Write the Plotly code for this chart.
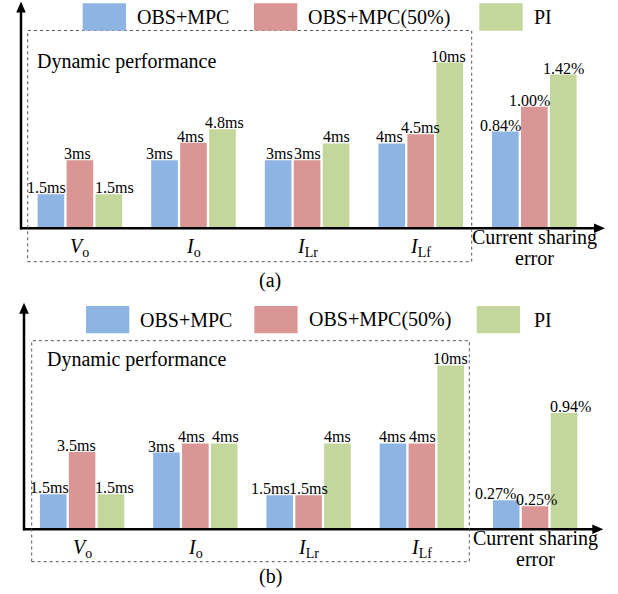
import plotly.graph_objects as go

W, H = 618, 594

# ---------------- data ----------------
categories = ["<i>V</i><sub>o</sub>", "<i>I</i><sub>o</sub>", "<i>I</i><sub>Lr</sub>",
              "<i>I</i><sub>Lf</sub>", "Current sharing<br>error"]
series_names = ["OBS+MPC", "OBS+MPC(50%)", "PI"]
colors = ["#8EB4E3", "#D99694", "#C3D69B"]

# panel (a): drawn bar heights (schematic scale) and value labels
a_obs_mpc = [1.5, 3.0, 3.0, 3.74, 4.26]
a_obs_mpc50 = [3.0, 3.77, 3.0, 4.14, 5.36]
a_pi = [1.5, 4.36, 3.74, 7.3, 6.77]
a_obs_mpc_lbl = ["1.5ms", "3ms", "3ms", "4ms", "0.84%"]
a_obs_mpc50_lbl = ["3ms", "4ms", "3ms", "4.5ms", "1.00%"]
a_pi_lbl = ["1.5ms", "4.8ms", "4ms", "10ms", "1.42%"]

# panel (b)
b_obs_mpc = [1.54, 3.38, 1.5, 3.78, 1.28]
b_obs_mpc50 = [3.4, 3.78, 1.5, 3.78, 1.01]
b_pi = [1.54, 3.78, 3.78, 7.22, 5.12]
b_obs_mpc_lbl = ["1.5ms", "3ms", "1.5ms", "4ms", "0.27%"]
b_obs_mpc50_lbl = ["3.5ms", "4ms", "1.5ms", "4ms", "0.25%"]
b_pi_lbl = ["1.5ms", "4ms", "4ms", "10ms", "0.94%"]

box_title = "Dynamic performance"
captions = ["(a)", "(b)"]

# ---------------- style ----------------
FONT = "Liberation Serif"
UNIT = 22.7  # pixels per height unit
BARGAP = 0.235
BARGROUPGAP = 0.08
SLOT = (1 - BARGAP) / 3

# small horizontal nudges (px) of value labels, as placed in the original figure
label_nudge = [
    [[-4, -5, 1, -2, -4.5], [-2, -3.5, 0, 0, -5], [5.5, 2, 0, -1, 0]],
    [[-4, -5, -9, 0, -11], [-5.5, -3.5, 0, 1, 1], [3.5, 1, 0, 0, 6.5]],
]


def px(x):
    return x / W


def py(y):
    return 1 - y / H


panels = [
    dict(xa="x", ya="y", vals=[a_obs_mpc, a_obs_mpc50, a_pi],
         lbls=[a_obs_mpc_lbl, a_obs_mpc50_lbl, a_pi_lbl],
         yaxis_x=21, axis_y=228.3, ytip=1.5, xtip=605, top=10,
         box=(27.7, 30.5, 471.7, 261.7), dp=(35, 61.7), leg_y=(3.3, 30.7),
         leg_x=[(82.7, 126, 135), (254, 297.3, 305.7), (479.3, 522.7, 531.7)],
         cap=(270, 280), x0px=79.9, xstep=113.6),
    dict(xa="x2", ya="y2", vals=[b_obs_mpc, b_obs_mpc50, b_pi],
         lbls=[b_obs_mpc_lbl, b_obs_mpc50_lbl, b_pi_lbl],
         yaxis_x=24, axis_y=529.3, ytip=302.7, xtip=603.3, top=312,
         box=(31.7, 340.7, 469.3, 561.7), dp=(45, 359.3), leg_y=(306, 333.3),
         leg_x=[(86, 129.3, 138), (254.3, 297.6, 306.7), (476.7, 520, 531.7)],
         cap=(270, 576.7), x0px=82.1, xstep=113.25),
]

fig = go.Figure()
shapes = []
annotations = []
layout_axes = {}

xs = list(range(len(categories)))

for i, p in enumerate(panels):
    for k, (vals, lbls, name, col) in enumerate(zip(p["vals"], p["lbls"], series_names, colors)):
        fig.add_trace(go.Bar(
            x=xs, y=vals, name=name, marker=dict(color=col, line=dict(width=0)),
            customdata=lbls, hovertemplate="%{customdata}<extra>" + name + "</extra>",
            xaxis=p["xa"], yaxis=p["ya"], showlegend=False))
        # value labels above each bar
        for j, (v, t) in enumerate(zip(vals, lbls)):
            annotations.append(dict(
                xref=p["xa"], yref=p["ya"], x=j + (k - 1) * SLOT, y=v, text=t,
                showarrow=False, xanchor="center", yanchor="bottom",
                xshift=label_nudge[i][k][j], yshift=-3, borderpad=0,
                font=dict(family=FONT, size=16, color="black")))

    # axes
    xr0 = -p["x0px"] / p["xstep"]
    xr1 = (W - p["x0px"]) / p["xstep"]
    yr1 = (p["axis_y"] - p["top"]) / UNIT
    xkey = "xaxis" if i == 0 else "xaxis2"
    ykey = "yaxis" if i == 0 else "yaxis2"
    layout_axes[xkey] = dict(domain=[0, 1], range=[xr0, xr1], visible=False,
                             anchor=p["ya"], fixedrange=True)
    layout_axes[ykey] = dict(domain=[py(p["axis_y"]), py(p["top"])], range=[0, yr1],
                             visible=False, anchor=p["xa"], fixedrange=True)

    # arrow axes
    ax_x, ax_y = p["yaxis_x"], p["axis_y"]
    shapes.append(dict(type="line", xref="paper", yref="paper",
                       x0=px(ax_x - 1), y0=py(ax_y), x1=px(p["xtip"] - 9), y1=py(ax_y),
                       line=dict(color="black", width=2.5)))
    shapes.append(dict(type="path", xref="paper", yref="paper",
                       path=f"M {px(p['xtip'])},{py(ax_y)} L {px(p['xtip'] - 11)},{py(ax_y - 4.8)} "
                            f"L {px(p['xtip'] - 11)},{py(ax_y + 4.8)} Z",
                       fillcolor="black", line=dict(color="black", width=0)))
    shapes.append(dict(type="line", xref="paper", yref="paper",
                       x0=px(ax_x), y0=py(ax_y + 1), x1=px(ax_x), y1=py(p["ytip"] + 9),
                       line=dict(color="black", width=2.5)))
    shapes.append(dict(type="path", xref="paper", yref="paper",
                       path=f"M {px(ax_x)},{py(p['ytip'])} L {px(ax_x - 4.8)},{py(p['ytip'] + 11)} "
                            f"L {px(ax_x + 4.8)},{py(p['ytip'] + 11)} Z",
                       fillcolor="black", line=dict(color="black", width=0)))

    # dashed box
    bx0, by0, bx1, by1 = p["box"]
    shapes.append(dict(type="rect", xref="paper", yref="paper",
                       x0=px(bx0), y0=py(by1), x1=px(bx1), y1=py(by0),
                       line=dict(color="#555555", width=1, dash="dot")))
    annotations.append(dict(xref="paper", yref="paper", x=px(p["dp"][0]), y=py(p["dp"][1]),
                            text=box_title, showarrow=False, xanchor="left", yanchor="middle",
                            font=dict(family=FONT, size=20, color="black")))

    # legend
    ly0, ly1 = p["leg_y"]
    for (rx0, rx1, tx), name, col in zip(p["leg_x"], series_names, colors):
        shapes.append(dict(type="rect", xref="paper", yref="paper",
                           x0=px(rx0), y0=py(ly1), x1=px(rx1), y1=py(ly0),
                           fillcolor=col, line=dict(width=0)))
        annotations.append(dict(xref="paper", yref="paper", x=px(tx), y=py((ly0 + ly1) / 2),
                                text=name, showarrow=False, xanchor="left", yanchor="middle",
                                font=dict(family=FONT, size=20, color="black")))

    # category labels
    for j, cat in enumerate(categories):
        lines = cat.split("<br>")
        if len(lines) == 1:
            offs = [19]
        else:
            offs = [9, 29.5]
        for line_text, off in zip(lines, offs):
            annotations.append(dict(xref=p["xa"], yref="paper", x=j, y=py(ax_y + off),
                                    text=line_text, showarrow=False, xanchor="center",
                                    yanchor="middle", borderpad=0,
                                    font=dict(family=FONT, size=20, color="black")))

    # caption
    annotations.append(dict(xref="paper", yref="paper", x=px(p["cap"][0]), y=py(p["cap"][1]),
                            text=captions[i], showarrow=False, xanchor="center", yanchor="middle",
                            font=dict(family=FONT, size=20, color="black")))

fig.update_layout(
    width=W, height=H, autosize=False,
    margin=dict(l=0, r=0, t=0, b=0, pad=0),
    paper_bgcolor="white", plot_bgcolor="white",
    barmode="group", bargap=BARGAP, bargroupgap=BARGROUPGAP,
    shapes=shapes, annotations=annotations,
    font=dict(family=FONT, size=16, color="black"),
    **layout_axes,
)

fig.write_html("out.html", config={"displayModeBar": False},
               post_script="document.body.style.margin='0';document.body.style.overflow='hidden';")
